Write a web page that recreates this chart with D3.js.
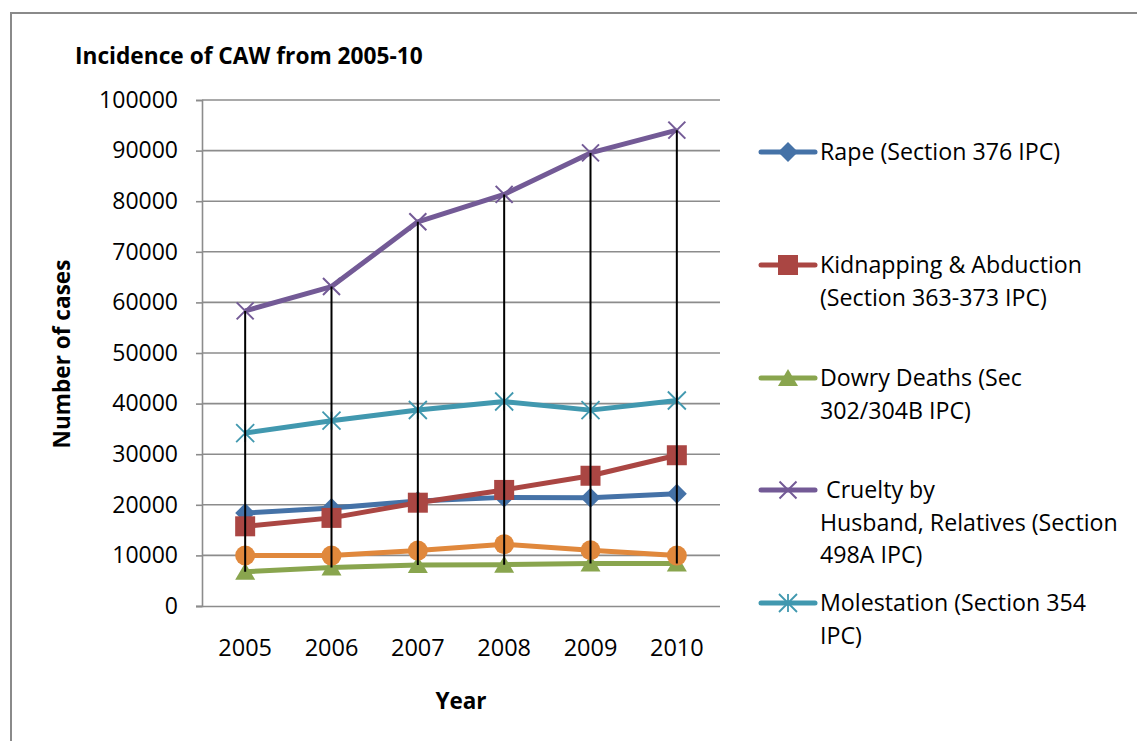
<!DOCTYPE html>
<html><head><meta charset="utf-8">
<script src="https://cdn.jsdelivr.net/npm/d3@7"></script>
<style>body{margin:0;background:#fff}text{font-family:"Open Sans",Lato,sans-serif;fill:#000}</style>
</head><body>
<svg id="c" width="1137" height="741"></svg>
<script>
const years = ["2005","2006","2007","2008","2009","2010"];
const rape = [18359,19348,20737,21467,21397,22172];
const kidnapping = [15750,17414,20416,22939,25741,29795];
const dowry = [6787,7618,8093,8172,8383,8391];
const cruelty = [58319,63128,75930,81344,89546,94041];
const molestation = [34175,36617,38734,40413,38711,40613];
const harassment = [9984,9966,10950,12214,11009,9961];
const yTicks = [0,10000,20000,30000,40000,50000,60000,70000,80000,90000,100000];
const title = "Incidence of CAW from 2005-10";
const xTitle = "Year";
const yTitle = "Number of cases";
const legendLabels = [
  ["Rape (Section 376 IPC)"],
  ["Kidnapping & Abduction","(Section 363-373 IPC)"],
  ["Dowry Deaths (Sec","302/304B IPC)"],
  [" Cruelty by","Husband, Relatives (Section","498A IPC)"],
  ["Molestation (Section 354","IPC)"]
];

const series = [
  {values:rape, color:"#4572A7", marker:"diamond", legend:0},
  {values:kidnapping, color:"#AA4643", marker:"square", legend:1},
  {values:dowry, color:"#89A54E", marker:"triangle", legend:2},
  {values:cruelty, color:"#735A96", marker:"x", legend:3},
  {values:molestation, color:"#4198AF", marker:"star", legend:4},
  {values:harassment, color:"#E0883C", marker:"circle", legend:-1}
];

const svg = d3.select("#c");
svg.append("rect").attr("x",11).attr("y",13).attr("width",1140).attr("height",740)
  .attr("fill","none").attr("stroke","#8a8a8a").attr("stroke-width",2);

const x = d3.scaleBand().domain(years).range([202,720]).padding(0);
const cx = d => x(d) + x.bandwidth()/2;
const y = d3.scaleLinear().domain([0,100000]).range([606,100]);

svg.append("g").selectAll("line").data(yTicks.slice(1)).join("line")
  .attr("x1",202).attr("x2",720).attr("y1",d=>y(d)).attr("y2",d=>y(d))
  .attr("stroke","#8c8c8c").attr("stroke-width",1.6);

const yAxis = d3.axisLeft(y).tickValues(yTicks).tickSize(6).tickPadding(18).tickFormat(d3.format("d"));
const gy = svg.append("g").attr("transform","translate(202,0)").call(yAxis);
gy.select(".domain").attr("stroke","#8c8c8c").attr("stroke-width",1.6);
gy.selectAll(".tick line").attr("stroke","#8c8c8c").attr("stroke-width",1.6);
gy.selectAll("text").style("font-size","23px").attr("fill","#000");

const xAxis = d3.axisBottom(x).tickSize(0).tickPadding(33);
const gx = svg.append("g").attr("transform","translate(0,606)").call(xAxis);
gx.select(".domain").attr("d","M196,0.5H720").attr("stroke","#8c8c8c").attr("stroke-width",1.6);
gx.selectAll("text").style("font-size","23.5px").attr("fill","#000");

const line = d3.line().x((d,i)=>cx(years[i])).y(d=>y(d));
function drawMarker(g, s, px, py){
  const m = s.marker;
  if (m==="x"){
    const r=8.5;
    g.append("path").attr("d",`M${px-r},${py-r}L${px+r},${py+r}M${px-r},${py+r}L${px+r},${py-r}`)
      .attr("stroke",s.color).attr("stroke-width",2).attr("fill","none");
  } else if (m==="star"){
    const r=9;
    g.append("path").attr("d",`M${px-r},${py-r}L${px+r},${py+r}M${px-r},${py+r}L${px+r},${py-r}M${px},${py-r}L${px},${py+r}`)
      .attr("stroke",s.color).attr("stroke-width",1.8).attr("fill","none");
  } else if (m==="diamond"){
    g.append("path").attr("d",`M${px},${py-10}L${px+10},${py}L${px},${py+10}L${px-10},${py}Z`).attr("fill",s.color);
  } else if (m==="square"){
    g.append("rect").attr("x",px-10).attr("y",py-10).attr("width",20).attr("height",20).attr("fill",s.color);
  } else if (m==="triangle"){
    g.append("path").attr("d",`M${px},${py-9}L${px+10},${py+8}L${px-10},${py+8}Z`).attr("fill",s.color);
  } else {
    g.append("circle").attr("cx",px).attr("cy",py).attr("r",10).attr("fill",s.color);
  }
}
series.forEach(s=>{
  const g = svg.append("g");
  g.append("path").datum(s.values).attr("d",line).attr("fill","none")
    .attr("stroke",s.color).attr("stroke-width",5).attr("stroke-linejoin","round");
  s.values.forEach((v,i)=>drawMarker(g,s,cx(years[i]),y(v)));
});

const hiLo = years.map((yr,i)=>{
  const vals = series.map(s=>s.values[i]);
  return {yr, hi:d3.max(vals), lo:d3.min(vals)};
});
svg.append("g").selectAll("line").data(hiLo).join("line")
  .attr("x1",d=>cx(d.yr)).attr("x2",d=>cx(d.yr)).attr("y1",d=>y(d.hi)).attr("y2",d=>y(d.lo))
  .attr("stroke","#000").attr("stroke-width",2);

svg.append("text").attr("x",75).attr("y",64).style("font-size","22.7px").style("font-weight","bold").text(title);
svg.append("text").attr("x",461).attr("y",709).attr("text-anchor","middle").style("font-size","22.5px").style("font-weight","bold").text(xTitle);
svg.append("text").attr("transform","translate(70,354) rotate(-90)").attr("text-anchor","middle").style("font-size","22.6px").style("font-weight","bold").text(yTitle);

const legendY = [152,265,378,490,603];
const lineH = 32.5;
series.filter(s=>s.legend>=0).forEach(s=>{
  const ly = legendY[s.legend];
  const g = svg.append("g");
  g.append("line").attr("x1",761).attr("x2",815).attr("y1",ly).attr("y2",ly)
    .attr("stroke",s.color).attr("stroke-width",5).attr("stroke-linecap","round");
  drawMarker(g, s, 788, ly);
  const t = g.append("text").attr("x",820).attr("y",ly+8).style("font-size","23.2px").attr("xml:space","preserve");
  legendLabels[s.legend].forEach((l,i)=>{
    t.append("tspan").attr("x",820).attr("dy",i===0?0:lineH).text(l);
  });
});
</script>
</body></html>
